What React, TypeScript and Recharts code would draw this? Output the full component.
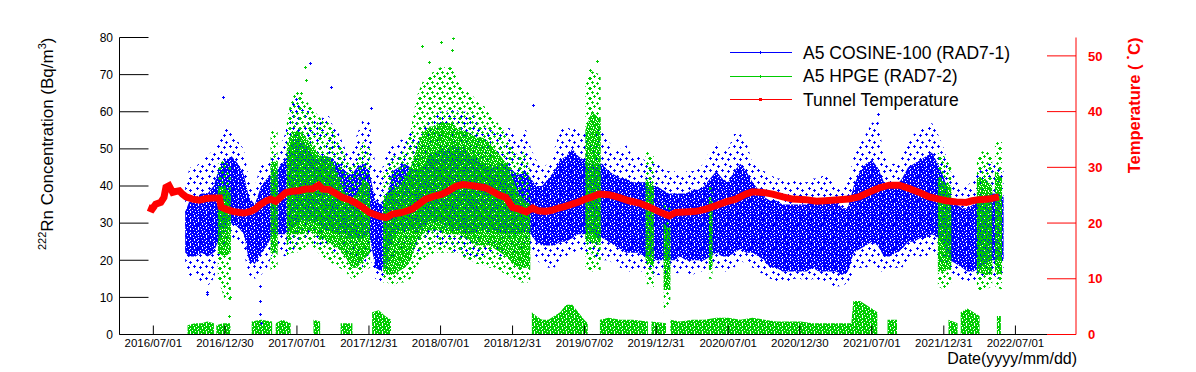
import React from 'react';
import { ComposedChart, Area, Line, XAxis, YAxis, Legend } from 'recharts';

const FONT = '"Liberation Sans", Arial, Helvetica, sans-serif';
const BLUE = '#0000ff';
const GREEN = '#00cc00';
const RED = '#ff0000';

// ---------- axes / labels ----------
const xTickLabels = [
  '2016/07/01', '2016/12/30', '2017/07/01', '2017/12/31', '2018/07/01', '2018/12/31', '2019/07/02',
  '2019/12/31', '2020/07/01', '2020/12/30', '2021/07/01', '2021/12/31', '2022/07/01',
];
const xRange = ['2016/04/06', '2022/12/02'];
const rnTicks = [0, 10, 20, 30, 40, 50, 60, 70, 80];
const rnMinorTicks = [2, 4, 6, 8, 12, 14, 16, 18, 22, 24, 26, 28, 32, 34, 36, 38, 42, 44, 46, 48, 52, 54, 56, 58, 62, 64, 66, 68, 72, 74, 76, 78];
const tempTicks = [0, 10, 20, 30, 40, 50];
const legendLabels = ['A5 COSINE-100 (RAD7-1)', 'A5 HPGE (RAD7-2)', 'Tunnel Temperature'];
const legendColors = [BLUE, GREEN, RED];

// ---------- data ----------
// [date, outer low, dense low, dense high, outer high]  (Bq/m^3)
type Band = [string, number | null, number | null, number | null, number | null];
const blueBand: Band[] = [
  ['2016-09-20', 18, 22, 33, 40], ['2016-10-01', 15, 21, 36, 45], ['2016-10-16', 16, 21, 37, 45],
  ['2016-11-01', 14, 22, 38, 47], ['2016-11-16', 13, 21, 38, 48], ['2016-12-01', 15, 22, 40, 50],
  ['2016-12-16', 20, 26, 45, 53], ['2017-01-01', 24, 29, 47, 56], ['2017-01-16', 26, 30, 48, 55],
  ['2017-02-01', 25, 29, 46, 52], ['2017-02-16', 22, 27, 43, 50], ['2017-03-01', 16, 20, 37, 42],
  ['2017-03-16', 15, 19, 35, 40], ['2017-04-01', 16, 22, 40, 46], ['2017-04-16', 18, 24, 42, 47],
  ['2017-05-01', 22, 27, 43, 48], ['2017-05-16', 22, 27, 45, 50], ['2017-06-01', 21, 27, 47, 54],
  ['2017-06-16', 22, 28, 52, 62], ['2017-07-01', 24, 30, 53, 64], ['2017-07-16', 25, 31, 52, 62],
  ['2017-08-01', 25, 30, 50, 60], ['2017-08-16', 24, 30, 48, 58], ['2017-09-01', 23, 29, 48, 58],
  ['2017-09-16', 23, 28, 48, 60], ['2017-10-01', 22, 28, 47, 56], ['2017-10-16', 22, 27, 46, 54],
  ['2017-11-01', 22, 27, 44, 50], ['2017-11-16', 21, 26, 43, 49], ['2017-12-01', 20, 26, 45, 54],
  ['2017-12-16', 18, 26, 46, 58], ['2018-01-01', 22, 27, 44, 58], ['2018-01-16', 15, 18, 36, 46],
  ['2018-02-01', 14, 17, 35, 44], ['2018-02-16', 16, 20, 38, 50], ['2018-03-01', 20, 26, 44, 51],
  ['2018-03-16', 22, 28, 45, 52], ['2018-04-01', 22, 28, 46, 53], ['2018-04-16', 22, 28, 45, 55],
  ['2018-05-01', 22, 28, 44, 52], ['2018-05-16', 23, 29, 45, 55], ['2018-06-01', 24, 30, 48, 58],
  ['2018-06-16', 25, 30, 49, 60], ['2018-07-01', 24, 30, 50, 60], ['2018-07-16', 24, 29, 50, 60],
  ['2018-08-01', 22, 28, 51, 62], ['2018-08-16', 22, 28, 50, 60], ['2018-09-01', 20, 27, 50, 60],
  ['2018-09-16', 20, 27, 48, 60], ['2018-10-01', 21, 28, 47, 58], ['2018-10-16', 21, 28, 46, 56],
  ['2018-11-01', 22, 28, 45, 55], ['2018-11-16', 22, 28, 45, 55], ['2018-12-01', 21, 27, 46, 54],
  ['2018-12-16', 21, 27, 46, 56], ['2019-01-01', 22, 27, 44, 55], ['2019-01-16', 22, 27, 43, 52],
  ['2019-02-01', 23, 28, 44, 56], ['2019-02-16', 22, 27, 42, 50], ['2019-03-01', 20, 25, 40, 47],
  ['2019-03-16', 19, 24, 40, 45], ['2019-04-01', 18, 24, 42, 46], ['2019-04-16', 18, 24, 44, 50],
  ['2019-05-01', 20, 25, 47, 55], ['2019-05-16', 21, 25, 48, 56], ['2019-06-01', 22, 26, 50, 55],
  ['2019-06-16', 22, 27, 48, 56], ['2019-07-01', 22, 27, 47, 54], ['2019-07-16', 22, 27, 46, 54],
  ['2019-08-01', 20, 26, 46, 56], ['2019-08-16', 20, 26, 46, 56], ['2019-09-01', 20, 25, 44, 52],
  ['2019-09-16', 19, 24, 43, 50], ['2019-10-01', 18, 23, 42, 50], ['2019-10-16', 17, 22, 42, 51],
  ['2019-11-01', 17, 22, 41, 48], ['2019-11-16', 17, 22, 41, 48], ['2019-12-01', 17, 21, 41, 47],
  ['2019-12-16', 16, 21, 40, 46], ['2020-01-01', 16, 20, 40, 46], ['2020-01-16', 16, 20, 39, 45],
  ['2020-02-01', 17, 20, 38, 44], ['2020-02-16', 16, 20, 38, 44], ['2020-03-01', 17, 21, 38, 43],
  ['2020-03-16', 16, 20, 38, 44], ['2020-04-01', 16, 20, 39, 44], ['2020-04-16', 17, 20, 39, 45],
  ['2020-05-01', 17, 20, 40, 46], ['2020-05-16', 17, 21, 42, 50], ['2020-06-01', 18, 22, 44, 52],
  ['2020-06-16', 17, 21, 42, 50], ['2020-07-01', 17, 21, 41, 50], ['2020-07-16', 18, 22, 44, 54],
  ['2020-08-01', 20, 23, 46, 54], ['2020-08-16', 19, 22, 44, 52], ['2020-09-01', 18, 22, 41, 46],
  ['2020-09-16', 17, 21, 39, 45], ['2020-10-01', 16, 20, 37, 44], ['2020-10-16', 15, 18, 36, 43],
  ['2020-11-01', 14, 18, 36, 42], ['2020-11-16', 14, 17, 35, 42], ['2020-12-01', 14, 17, 35, 41],
  ['2020-12-16', 15, 17, 35, 42], ['2021-01-01', 15, 17, 35, 41], ['2021-01-16', 14, 17, 35, 41],
  ['2021-02-01', 15, 18, 36, 42], ['2021-02-16', 14, 17, 36, 42], ['2021-03-01', 14, 17, 36, 43],
  ['2021-03-16', 13, 17, 36, 42], ['2021-04-01', 13, 17, 36, 40], ['2021-04-16', 13, 16, 34, 40],
  ['2021-05-01', 14, 17, 34, 41], ['2021-05-16', 17, 22, 40, 48], ['2021-06-01', 18, 23, 44, 52],
  ['2021-06-16', 18, 24, 46, 54], ['2021-07-01', 19, 25, 47, 57], ['2021-07-16', 17, 24, 45, 58],
  ['2021-08-01', 17, 21, 41, 48], ['2021-08-16', 18, 21, 40, 46], ['2021-09-01', 18, 22, 40, 46],
  ['2021-09-16', 18, 23, 42, 48], ['2021-10-01', 20, 25, 45, 52], ['2021-10-16', 20, 25, 46, 54],
  ['2021-11-01', 21, 26, 47, 55], ['2021-11-16', 21, 26, 48, 56], ['2021-12-01', 22, 27, 49, 57],
  ['2021-12-16', 21, 26, 46, 54], ['2022-01-01', 19, 24, 42, 50], ['2022-01-16', 16, 20, 37, 44],
  ['2022-02-01', 16, 19, 35, 42], ['2022-02-16', 14, 18, 34, 40], ['2022-03-01', 14, 17, 34, 40],
  ['2022-03-16', 14, 17, 35, 42], ['2022-04-01', 15, 18, 36, 44], ['2022-04-16', 16, 19, 37, 46],
  ['2022-05-01', 16, 20, 38, 46], ['2022-05-16', 15, 20, 38, 46], ['2022-06-01', 16, 20, 37, 45],
];

// HPGE (RAD7-2) upper population; null rows are gaps
const greenBand: Band[] = [
  ['2016-12-12', 15, 22, 40, 46], ['2016-12-28', 10, 21, 40, 47], ['2017-01-14', 8, 22, 38, 45],
  ['2017-01-20', null, null, null, null],
  ['2017-04-25', 17, 22, 46, 55], ['2017-05-13', 18, 22, 47, 56],
  ['2017-05-20', null, null, null, null],
  ['2017-06-05', 20, 24, 50, 58], ['2017-06-16', 22, 27, 54, 63], ['2017-07-01', 22, 27, 55, 66],
  ['2017-07-16', 23, 27, 54, 64], ['2017-08-01', 24, 28, 52, 62], ['2017-08-16', 23, 27, 50, 60],
  ['2017-09-01', 21, 26, 48, 58], ['2017-09-16', 20, 25, 48, 58], ['2017-10-01', 19, 24, 46, 55],
  ['2017-10-16', 18, 23, 42, 52], ['2017-11-01', 17, 21, 38, 48], ['2017-11-16', 15, 18, 36, 45],
  ['2017-12-01', 15, 18, 38, 48], ['2017-12-16', 17, 20, 42, 52], ['2018-01-03', 18, 22, 40, 50],
  ['2018-01-08', null, null, null, null],
  ['2018-02-05', 14, 17, 36, 44], ['2018-02-16', 14, 16, 38, 46], ['2018-03-01', 13, 16, 39, 48],
  ['2018-03-16', 14, 17, 40, 48], ['2018-04-01', 14, 18, 42, 50], ['2018-04-16', 15, 20, 45, 55],
  ['2018-05-01', 18, 25, 50, 64], ['2018-05-16', 20, 27, 54, 68], ['2018-06-01', 21, 28, 56, 70],
  ['2018-06-16', 22, 28, 56, 71], ['2018-07-01', 22, 28, 57, 72], ['2018-07-16', 22, 27, 57, 72],
  ['2018-08-01', 22, 27, 57, 72], ['2018-08-16', 22, 27, 55, 68], ['2018-09-01', 20, 26, 55, 66],
  ['2018-09-16', 20, 25, 54, 65], ['2018-10-01', 19, 24, 53, 63], ['2018-10-16', 19, 24, 53, 62],
  ['2018-11-01', 18, 24, 52, 60], ['2018-11-16', 18, 23, 50, 58], ['2018-12-01', 17, 22, 48, 56],
  ['2018-12-16', 16, 21, 46, 54], ['2019-01-01', 15, 19, 42, 50], ['2019-01-16', 14, 18, 38, 48],
  ['2019-02-01', 14, 18, 36, 50], ['2019-02-14', 14, 18, 35, 44],
  ['2019-02-18', null, null, null, null],
  ['2019-07-04', 18, 25, 55, 68], ['2019-07-20', 17, 25, 60, 71], ['2019-08-12', 17, 24, 58, 70],
  ['2019-08-20', null, null, null, null],
  ['2019-12-04', 14, 20, 42, 50], ['2019-12-25', 12, 18, 40, 48],
  ['2019-12-30', null, null, null, null],
  ['2020-01-19', 6, 12, 30, 36], ['2020-02-05', 8, 12, 28, 34],
  ['2020-02-10', null, null, null, null],
  ['2020-05-13', 15, 18, 36, 40], ['2020-05-22', 15, 18, 36, 40],
  ['2020-06-01', null, null, null, null],
  ['2021-12-16', 13, 17, 42, 50], ['2022-01-01', 12, 17, 41, 48], ['2022-01-19', 14, 18, 40, 46],
  ['2022-01-25', null, null, null, null],
  ['2022-03-25', 12, 17, 42, 48], ['2022-04-15', 12, 16, 42, 50], ['2022-05-03', 13, 16, 40, 48],
  ['2022-05-07', null, null, null, null],
  ['2022-05-10', 13, 17, 44, 52], ['2022-05-28', 12, 16, 42, 52],
];

// HPGE (RAD7-2) near-zero population: [date, upper edge]; null rows are gaps
const greenLow: [string, number | null][] = [
  ['2016-09-26', 2.5], ['2016-10-15', 3], ['2016-11-01', 3], ['2016-11-15', 3.5], ['2016-12-02', 3], ['2016-12-05', null],
  ['2016-12-08', 2.5], ['2016-12-25', 3], ['2017-01-13', 3], ['2017-02-01', null],
  ['2017-03-08', 3.5], ['2017-04-01', 4], ['2017-04-29', 3.5], ['2017-05-03', null],
  ['2017-05-08', 3], ['2017-05-25', 4], ['2017-06-15', 3], ['2017-07-01', null],
  ['2017-08-12', 4], ['2017-08-29', 3.5], ['2017-09-10', null],
  ['2017-10-20', 3], ['2017-11-19', 3], ['2017-12-01', null],
  ['2018-01-08', 6], ['2018-01-25', 6.5], ['2018-02-10', 5], ['2018-02-25', 4], ['2018-03-01', null],
  ['2019-02-18', 6], ['2019-03-01', 5], ['2019-03-16', 4], ['2019-04-01', 4], ['2019-04-16', 5], ['2019-05-01', 6],
  ['2019-05-16', 8], ['2019-06-01', 8], ['2019-06-16', 6], ['2019-07-01', 4], ['2019-07-10', 3], ['2019-07-20', null],
  ['2019-08-10', 4], ['2019-09-01', 4.5], ['2019-10-01', 4], ['2019-11-01', 4], ['2019-12-10', 3.5], ['2019-12-15', null],
  ['2019-12-19', 3.5], ['2020-01-25', 3], ['2020-01-30', null],
  ['2020-02-05', 4], ['2020-03-01', 3.5], ['2020-04-01', 4], ['2020-05-01', 4], ['2020-06-01', 4.5], ['2020-07-01', 4.5],
  ['2020-08-01', 4], ['2020-09-01', 4.5], ['2020-10-01', 4], ['2020-11-01', 3.5], ['2020-12-01', 3.5], ['2021-01-01', 3.5],
  ['2021-02-01', 3], ['2021-03-01', 3], ['2021-04-01', 3], ['2021-05-10', 3], ['2021-05-15', 9], ['2021-06-01', 9],
  ['2021-06-16', 8], ['2021-07-01', 7], ['2021-07-15', 6], ['2021-07-25', null],
  ['2021-08-10', 4], ['2021-09-03', 4], ['2021-09-10', null],
  ['2022-01-12', 4], ['2022-02-04', 3], ['2022-02-08', null],
  ['2022-02-12', 6], ['2022-03-01', 7], ['2022-04-01', 5], ['2022-04-10', null],
  ['2022-05-15', 5], ['2022-05-25', 5],
];

// Tunnel temperature (deg C)
const temperature: [string, number][] = [
  ['2016-06-18', 22.8], ['2016-06-28', 22.5], ['2016-07-07', 23.4], ['2016-07-20', 23.7], ['2016-07-28', 24.6],
  ['2016-08-02', 26.4], ['2016-08-10', 26.7], ['2016-08-19', 25.5], ['2016-08-28', 25.7], ['2016-09-05', 25.8],
  ['2016-09-13', 25.2], ['2016-09-22', 24.7], ['2016-10-09', 24.3], ['2016-10-26', 24.1], ['2016-11-12', 24.4],
  ['2016-11-29', 24.5], ['2016-12-16', 24.5], ['2016-12-20', 22.9], ['2017-01-02', 22.5], ['2017-01-19', 22.1],
  ['2017-02-05', 21.9], ['2017-02-17', 21.8], ['2017-03-05', 22.1], ['2017-03-17', 22.5], ['2017-03-30', 23.3],
  ['2017-04-12', 23.9], ['2017-04-25', 24.3], ['2017-05-08', 23.9], ['2017-05-20', 24.6], ['2017-06-03', 25.5],
  ['2017-06-19', 25.7], ['2017-07-06', 25.8], ['2017-07-23', 26.1], ['2017-08-09', 26.1], ['2017-08-25', 26.8],
  ['2017-09-04', 26.1], ['2017-09-21', 26.0], ['2017-10-08', 25.3], ['2017-10-24', 24.6], ['2017-11-11', 24.2],
  ['2017-11-28', 23.6], ['2017-12-15', 22.8], ['2018-01-01', 21.9], ['2018-01-27', 21.2], ['2018-02-13', 21.0],
  ['2018-03-01', 21.6], ['2018-03-25', 21.9], ['2018-04-20', 22.5], ['2018-05-07', 23.4], ['2018-05-24', 24.3],
  ['2018-06-18', 24.9], ['2018-07-05', 25.2], ['2018-07-22', 25.8], ['2018-08-09', 26.6], ['2018-08-26', 26.9],
  ['2018-09-12', 26.8], ['2018-09-29', 26.6], ['2018-10-24', 26.3], ['2018-11-10', 25.7], ['2018-11-27', 25.0],
  ['2018-12-14', 24.6], ['2018-12-31', 22.8], ['2019-01-17', 22.5], ['2019-02-04', 22.0], ['2019-02-20', 22.7],
  ['2019-03-07', 22.2], ['2019-03-24', 22.1], ['2019-04-10', 22.3], ['2019-04-27', 22.7], ['2019-05-14', 23.0],
  ['2019-05-31', 23.4], ['2019-06-17', 23.8], ['2019-07-04', 24.3], ['2019-07-21', 24.7], ['2019-08-08', 25.2],
  ['2019-09-02', 25.1], ['2019-09-27', 24.6], ['2019-10-23', 24.0], ['2019-11-18', 23.6], ['2019-12-13', 22.9],
  ['2020-01-08', 22.0], ['2020-02-02', 21.3], ['2020-02-19', 21.9], ['2020-03-15', 22.0], ['2020-04-10', 22.1],
  ['2020-05-05', 22.5], ['2020-05-30', 23.1], ['2020-06-25', 23.8], ['2020-07-20', 24.3], ['2020-08-15', 25.2],
  ['2020-09-01', 25.6], ['2020-09-27', 25.5], ['2020-10-22', 25.2], ['2020-11-17', 24.7], ['2020-12-12', 24.3],
  ['2021-01-15', 24.2], ['2021-02-10', 23.9], ['2021-03-05', 24.0], ['2021-04-08', 24.2], ['2021-05-03', 24.3],
  ['2021-05-29', 24.7], ['2021-06-23', 25.5], ['2021-07-19', 26.3], ['2021-08-14', 26.8], ['2021-09-09', 26.8],
  ['2021-10-04', 26.2], ['2021-10-30', 25.5], ['2021-11-24', 24.7], ['2021-12-19', 24.3], ['2022-01-06', 24.0],
  ['2022-02-01', 23.8], ['2022-02-26', 23.7], ['2022-03-13', 24.0], ['2022-03-30', 24.2], ['2022-04-24', 24.3],
  ['2022-05-20', 24.7],
];

// isolated readings outside the main clouds
const blueOutliers: [string, number][] = [
  ['2016-11-14', 11.5], ['2016-11-15', 10.8], ['2016-12-24', 64], ['2017-03-28', 13], ['2017-03-29', 9],
  ['2017-03-30', 5.5], ['2017-03-31', 3], ['2017-08-04', 73], ['2017-09-26', 66.7], ['2018-01-06', 61],
  ['2019-02-22', 61.7], ['2021-07-15', 57], ['2021-07-17', 59.5],
];
const greenOutliers: [string, number][] = [
  ['2017-01-10', 5], ['2017-01-11', 10], ['2017-07-12', 65], ['2017-07-21', 72], ['2017-07-23', 68.6],
  ['2018-05-16', 77.7], ['2018-06-02', 73.5], ['2018-07-03', 78.9], ['2018-07-30', 76.6], ['2018-08-02', 79.8],
  ['2019-07-15', 71.2], ['2019-08-03', 73.7],
];

// ---------- helpers ----------
const ORIGIN = Date.UTC(2016, 6, 1);
function day(s: string): number {
  const [y, m, d] = s.split(/[-/]/).map(Number);
  return (Date.UTC(y, m - 1, d) - ORIGIN) / 86400000;
}
type Row = { t: number; r: [number, number] | null };
function segments(rows: Row[]): Row[][] {
  const out: Row[][] = [];
  let cur: Row[] = [];
  for (const row of rows) {
    if (row.r == null) {
      if (cur.length) out.push(cur);
      cur = [];
    } else cur.push(row);
  }
  if (cur.length) out.push(cur);
  return out;
}
const bandRows = (band: Band[], a: number, b: number): Row[] =>
  band.map((e) => ({ t: day(e[0]), r: e[a] == null ? null : [e[a] as number, e[b] as number] }));

const blueOuterSegs = segments(bandRows(blueBand, 1, 4));
const blueCoreSegs = segments(bandRows(blueBand, 2, 3));
const greenOuterSegs = segments(bandRows(greenBand, 1, 4));
const greenCoreSegs = segments(bandRows(greenBand, 2, 3));
const greenLowSegs = segments(greenLow.map(([d, h]) => ({ t: day(d), r: h == null ? null : [0, h] })));
const tempRows = temperature.map(([d, v]) => ({ t: day(d), v }));
const blueOutRows = blueOutliers.map(([d, v]) => ({ t: day(d), v }));
const greenOutRows = greenOutliers.map(([d, v]) => ({ t: day(d), v }));
const xTicks = xTickLabels.map((s) => day(s));
const xLabelOf = (v: number) => {
  const i = xTicks.indexOf(v);
  return i >= 0 ? xTickLabels[i] : '';
};

// ---------- marker textures (style only) ----------
const DENSE = [
  '##.###.#',
  '#####.##',
  '.#######',
  '###.##.#',
  '######.#',
  '#.####.#',
  '####.###',
  '##.#####',
];
const THICK = [
  '#.###.##',
  '###.####',
  '.###.#.#',
  '##.####.',
  '#####.##',
  '.#.###.#',
  '####.###',
  '#.##.##.',
];
const LIGHT = [
  '..........',
  '..#.......',
  '.###...#..',
  '..#...###.',
  '.......#..',
  '....#.....',
  '...###....',
  '#...#....#',
  '##......##',
  '#........#',
];
const SPARSE = [
  '............',
  '..#.........',
  '.###....#...',
  '..#....###..',
  '........#...',
  '............',
  '............',
  '.....#......',
  '....###.....',
  '.....#....#.',
  '.........###',
  '..........#.',
];
const gridRects = (grid: string[], color: string) =>
  grid.flatMap((row, y) =>
    row.split('').map((c, x) => (c === '#' ? <rect key={`${x}-${y}`} x={x} y={y} width={1} height={1} fill={color} /> : null)),
  );
const pat = (id: string, grid: string[], color: string) => (
  <pattern key={id} id={id} width={grid[0].length} height={grid.length} patternUnits="userSpaceOnUse">
    {gridRects(grid, color)}
  </pattern>
);
const Patterns = () => (
  <svg width={0} height={0} style={{ position: 'absolute' }}>
    <defs>
      {pat('denseBlue', DENSE, BLUE)}
      {pat('sparseBlue', SPARSE, BLUE)}
      {pat('thickGreen', THICK, GREEN)}
      {pat('denseGreen', DENSE, GREEN)}
      {pat('lightGreen', LIGHT, GREEN)}
    </defs>
  </svg>
);

const crossDot = (color: string) => (props: any) => {
  const { cx, cy, index } = props;
  if (cx == null || cy == null) return <g key={index} />;
  const x = Math.round(cx);
  const y = Math.round(cy);
  return (
    <g key={index}>
      <rect x={x - 1} y={y} width={3} height={1} fill={color} />
      <rect x={x} y={y - 1} width={1} height={3} fill={color} />
    </g>
  );
};

const LeftTitle = () => (
  <text transform="rotate(-90)" x={-37.5} y={53} textAnchor="end" fontFamily={FONT} fontSize={17} fill="#000">
    <tspan dy={-7} fontSize={11}>222</tspan>
    <tspan dy={7}>Rn Concentration (Bq/m</tspan>
    <tspan dy={-7} fontSize={11}>3</tspan>
    <tspan dy={7}>)</tspan>
  </text>
);
const RightTitle = () => (
  <text transform="rotate(-90)" x={-37.5} y={1140} textAnchor="end" fontFamily={FONT} fontSize={16.5} fontWeight="bold" fill={RED}>
    <tspan>Temperature ( </tspan>
    <tspan dy={-9} fontSize={8}>∘</tspan>
    <tspan dy={9}>C)</tspan>
  </text>
);
const DateTitle = () => (
  <text x={1077} y={363.5} textAnchor="end" fontFamily={FONT} fontSize={16} fill="#000">
    Date(yyyy/mm/dd)
  </text>
);

const renderLegend = () => (
  <div style={{ fontFamily: FONT }}>
    {legendLabels.map((label, i) => (
      <div key={label} style={{ display: 'flex', alignItems: 'center', height: 23.5 }}>
        <svg width={73} height={9} style={{ display: 'block' }}>
          <rect x={0} y={4} width={62} height={1} fill={legendColors[i]} />
          {i < 2 ? (
            <rect x={30} y={3} width={1} height={3} fill={legendColors[i]} />
          ) : (
            <rect x={29} y={3} width={3} height={3} fill={legendColors[i]} />
          )}
        </svg>
        <span style={{ fontSize: 17.5, lineHeight: '20px', color: '#000', whiteSpace: 'nowrap' }}>{label}</span>
      </div>
    ))}
  </div>
);

const areaCommon = {
  yAxisId: 'rn',
  type: 'linear' as const,
  stroke: 'none',
  fillOpacity: 1,
  dot: false,
  activeDot: false,
  isAnimationActive: false,
  legendType: 'none' as const,
};

export default function App() {
  const xDomain = [day(xRange[0]), day(xRange[1])];
  return (
    <div style={{ position: 'fixed', left: 0, top: 0, width: 1196, height: 372, background: '#fff' }}>
      <Patterns />
      <ComposedChart width={1196} height={372} margin={{ top: 37.5, right: 60, bottom: 7.5, left: 59.5 }}>
        <XAxis
          dataKey="t"
          type="number"
          domain={xDomain}
          allowDataOverflow
          ticks={xTicks}
          interval={0}
          tickFormatter={xLabelOf}
          height={30}
          axisLine={{ stroke: '#000' }}
          tickLine={{ stroke: '#000' }}
          tickSize={-9}
          tickMargin={13.5}
          tick={{ fill: '#000', fontSize: 11.5, fontFamily: FONT }}
          label={<DateTitle />}
        />
        <XAxis
          xAxisId="top"
          orientation="top"
          dataKey="t"
          type="number"
          domain={xDomain}
          allowDataOverflow
          height={0}
          tick={false}
          tickLine={false}
          axisLine={{ stroke: '#000' }}
        />
        <YAxis
          yAxisId="rnMinor"
          orientation="left"
          mirror
          width={0}
          domain={[0, 80]}
          allowDataOverflow
          ticks={rnMinorTicks}
          interval={0}
          tick={false}
          tickSize={14}
          tickLine={{ stroke: '#000' }}
          axisLine={false}
        />
        <YAxis
          yAxisId="rn"
          orientation="left"
          width={60}
          domain={[0, 80]}
          allowDataOverflow
          ticks={rnTicks}
          interval={0}
          tickSize={-29}
          tickMargin={35.5}
          axisLine={{ stroke: '#000' }}
          tickLine={{ stroke: '#000' }}
          tick={{ fill: '#000', fontSize: 12, fontFamily: FONT }}
          label={<LeftTitle />}
        />
        <YAxis
          yAxisId="temp"
          orientation="right"
          width={60}
          domain={[0, 53.3]}
          allowDataOverflow
          ticks={tempTicks}
          interval={0}
          tickSize={-29}
          tickMargin={41}
          axisLine={{ stroke: RED }}
          tickLine={{ stroke: RED }}
          tick={{ fill: RED, fontSize: 13, fontWeight: 'bold', fontFamily: FONT }}
          label={<RightTitle />}
        />
        <Legend
          content={renderLegend}
          layout="vertical"
          align="center"
          verticalAlign="middle"
          wrapperStyle={{ top: 41, left: 730, width: 320 }}
        />

        {blueOuterSegs.map((seg, i) => (
          <Area key={`bo${i}`} {...areaCommon} data={seg} dataKey="r" fill="url(#sparseBlue)" />
        ))}
        {blueCoreSegs.map((seg, i) => (
          <Area key={`bc${i}`} {...areaCommon} data={seg} dataKey="r" fill="url(#denseBlue)" />
        ))}
        <Line data={blueOutRows} dataKey="v" yAxisId="rn" stroke="none" dot={crossDot(BLUE)} activeDot={false} isAnimationActive={false} legendType="none" />
        {greenOuterSegs.map((seg, i) => (
          <Area key={`go${i}`} {...areaCommon} data={seg} dataKey="r" fill="url(#lightGreen)" />
        ))}
        {greenCoreSegs.map((seg, i) => (
          <Area key={`gc${i}`} {...areaCommon} data={seg} dataKey="r" fill="url(#thickGreen)" />
        ))}
        {greenLowSegs.map((seg, i) => (
          <Area key={`gl${i}`} {...areaCommon} data={seg} dataKey="r" fill="url(#denseGreen)" />
        ))}
        <Line data={greenOutRows} dataKey="v" yAxisId="rn" stroke="none" dot={crossDot(GREEN)} activeDot={false} isAnimationActive={false} legendType="none" />
        <Line
          data={tempRows}
          dataKey="v"
          yAxisId="temp"
          type="linear"
          stroke={RED}
          strokeWidth={7}
          dot={false}
          activeDot={false}
          isAnimationActive={false}
          legendType="none"
        />
      </ComposedChart>
    </div>
  );
}
